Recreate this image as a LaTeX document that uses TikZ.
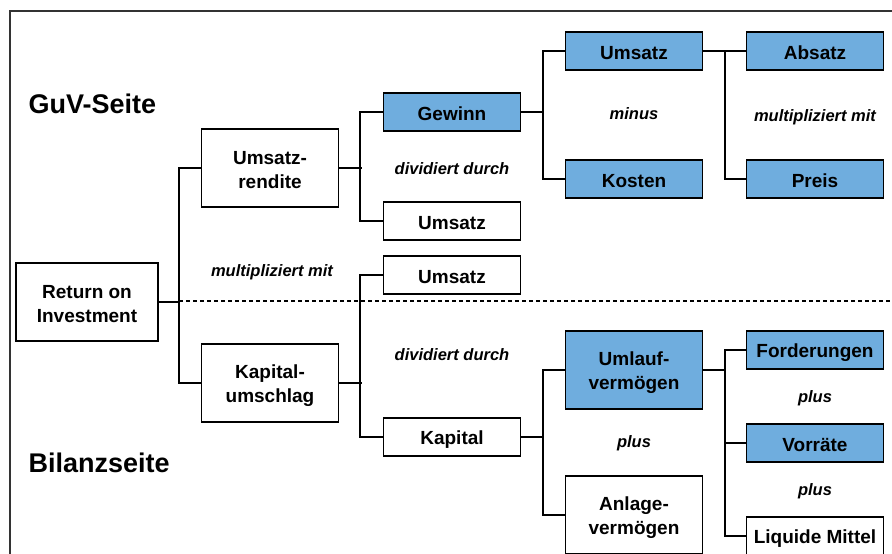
\documentclass[tikz,border=0pt]{standalone}
\usepackage{fontspec}
\setmainfont{Liberation Sans}
\newcommand\myst{\rule[-2pt]{0pt}{21pt}}
\begin{document}
\begin{tikzpicture}[x=1pt,y=-1pt,
  box/.style={draw=black,line width=1.2pt,fill=white,minimum width=137pt,minimum height=38pt,inner sep=0pt,align=center,font=\fontsize{19}{24}\selectfont\bfseries},
  tall/.style={minimum height=78pt},
  blue/.style={fill=boxblue},
  lab/.style={font=\fontsize{16.5}{19}\selectfont\bfseries\itshape},
  side/.style={font=\fontsize{27}{32}\selectfont\bfseries,anchor=west},
  conn/.style={line width=1.4pt,draw=black}]
\definecolor{boxblue}{RGB}{111,173,222}
\useasboundingbox (0,0) rectangle (892,554);
\clip (0,0) rectangle (892,554);
\fill[white] (0,0) rectangle (892,554);
\draw[line width=1.2pt,draw=black!80] (10,560) -- (10,11) -- (900,11);
\draw[line width=1.1pt,dash pattern=on 4pt off 3pt] (179,301) -- (892,301);

\node[side] (guv) at (25,104) {GuV-Seite};
\node[side] (bil) at (25,463) {Bilanzseite};

\node[box,tall,minimum width=142pt] (roi) at (87,302) {\myst Return on\\\myst Investment};
\node[box,tall] (ur) at (270,168) {\myst Umsatz-\\\myst rendite};
\node[box,tall] (ku) at (270,383) {\myst Kapital-\\\myst umschlag};
\node[box,blue] (gew) at (452,112) {\myst Gewinn};
\node[box] (ums1) at (452,221) {\myst Umsatz};
\node[box] (ums2) at (452,275) {\myst Umsatz};
\node[box] (kap) at (452,437) {\myst Kapital};
\node[box,blue] (ums3) at (634,51) {\myst Umsatz};
\node[box,blue] (kos) at (634,179) {\myst Kosten};
\node[box,blue,tall] (ulv) at (634,370) {\myst Umlauf-\\\myst vermögen};
\node[box,tall] (alv) at (634,515) {\myst Anlage-\\\myst vermögen};
\node[box,blue] (abs) at (815,51) {\myst Absatz};
\node[box,blue] (prs) at (815,179) {\myst Preis};
\node[box,blue] (ford) at (815,350) {\myst Forderungen};
\node[box,blue] (vorr) at (815,443) {\myst Vorräte};
\node[box] (liq) at (815,536) {\myst Liquide Mittel};

\node[lab] (l1) at (272,272) {multipliziert mit};
\node[lab] (l2) at (452,168.5) {dividiert durch};
\node[lab] (l3) at (452,354.5) {dividiert durch};
\node[lab] (l4) at (634,114) {minus};
\node[lab] (l5) at (815,117.5) {multipliziert mit};
\node[lab] (l6) at (634,443.5) {plus};
\node[lab] (l7) at (815,398.5) {plus};
\node[lab] (l8) at (815,491.5) {plus};

\draw[conn] (roi.east) -- ++(21,0);
\draw[conn] (ur.west) -- ++(-22,0) |- (ku.west);
\draw[conn] (ur.east) -- ++(23,0);
\draw[conn] (gew.west) -- ++(-23,0) |- (ums1.west);
\draw[conn] (ku.east) -- ++(23,0);
\draw[conn] (ums2.west) -- ++(-23,0) |- (kap.west);
\draw[conn] (gew.east) -- ++(22,0);
\draw[conn] (ums3.west) -- ++(-22,0) |- (kos.west);
\draw[conn] (kap.east) -- ++(22,0);
\draw[conn] (ulv.west) -- ++(-22,0) |- (alv.west);
\draw[conn] (ums3.east) -- ++(22,0);
\draw[conn] (abs.west) -- ++(-21,0) |- (prs.west);
\draw[conn] (ulv.east) -- ++(22,0);
\draw[conn] (ford.west) -- ++(-21,0) |- (liq.west);
\draw[conn] (vorr.west) -- ++(-21,0);
\end{tikzpicture}
\end{document}
